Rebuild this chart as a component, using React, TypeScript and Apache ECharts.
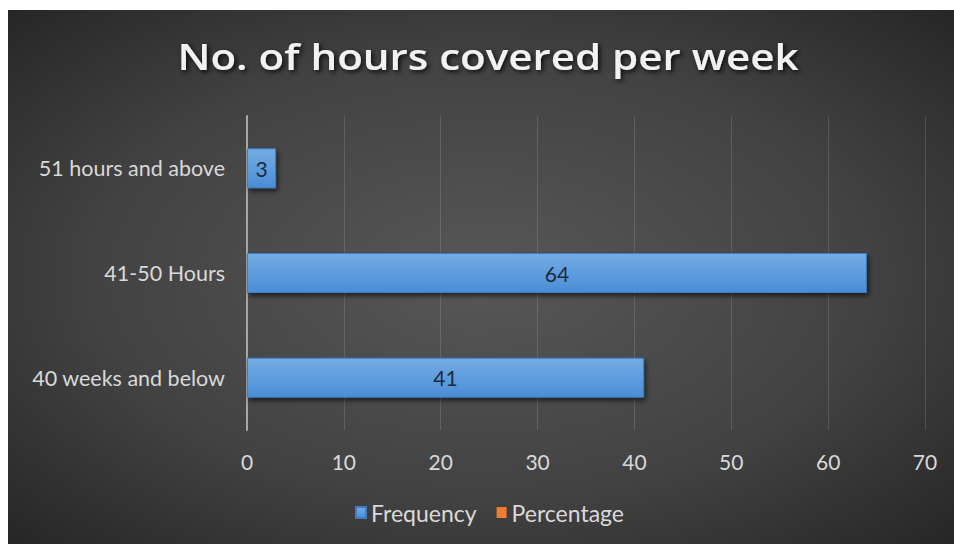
import React, { useEffect, useRef } from "react";
import * as echarts from "echarts";

const titleText = "No. of hours covered per week";
const categories = ["40 weeks and below", "41-50 Hours", "51 hours and above"];
const frequency = [41, 64, 3];
const percentage: (number | null)[] = [];
const xTicks = [0, 70, 10];

export default function App() {
  const ref = useRef<HTMLDivElement>(null);
  useEffect(() => {
    if (!ref.current) return;
    const chart = echarts.init(ref.current, null, { renderer: "svg" });
    const font = "Lato, 'Open Sans', sans-serif";
    chart.setOption({
      animation: false,
      backgroundColor: "#ffffff",
      graphic: [
        {
          type: "rect",
          z: -10,
          silent: true,
          shape: { x: 8, y: 10, width: 946, height: 534 },
          style: {
            fill: new echarts.graphic.RadialGradient(0.5, 0.5, 0.75, [
              { offset: 0, color: "#575757" },
              { offset: 0.55, color: "#424242" },
              { offset: 1, color: "#222222" },
            ]),
          },
        },
        {
          type: "text",
          z: 10,
          silent: true,
          x: 488,
          y: 38,
          scaleX: 1.17,
          scaleY: 1,
          style: {
            text: titleText,
            fill: "#f2f2f2",
            fontFamily: "'Open Sans', sans-serif",
            fontWeight: 600,
            fontSize: 36,
            align: "center",
            verticalAlign: "top",
            textShadowColor: "rgba(0,0,0,0.85)",
            textShadowBlur: 5,
            textShadowOffsetX: 2,
            textShadowOffsetY: 2,
          },
        },
      ],
      legend: {
        bottom: 15,
        left: 350,
        itemWidth: 10,
        itemHeight: 11,
        itemGap: 20,
        icon: "rect",
        textStyle: { color: "#d9d9d9", fontSize: 23, fontFamily: font },
        data: ["Frequency", "Percentage"],
      },
      grid: { left: 247, right: 29, top: 116, bottom: 114 },
      xAxis: {
        type: "value",
        min: xTicks[0],
        max: xTicks[1],
        interval: xTicks[2],
        axisLine: { show: false },
        axisTick: { show: false },
        axisLabel: { color: "#d9d9d9", fontSize: 21, fontFamily: font, margin: 21 },
        splitLine: { lineStyle: { color: "rgba(255,255,255,0.13)", width: 1 } },
      },
      yAxis: {
        type: "category",
        data: categories,
        axisLine: { lineStyle: { color: "#a6a6a6", width: 2 } },
        axisTick: { show: false },
        axisLabel: { color: "#d9d9d9", fontSize: 21.5, fontFamily: font, margin: 22 },
      },
      series: [
        {
          name: "Frequency",
          type: "bar",
          data: frequency,
          barWidth: 40,
          barGap: "-100%",
          itemStyle: {
            color: new echarts.graphic.LinearGradient(0, 0, 0, 1, [
              { offset: 0, color: "#74ace4" },
              { offset: 1, color: "#4a8dd6" },
            ]),
            borderColor: "#3f7cc0",
            borderWidth: 1,
            shadowColor: "rgba(0,0,0,0.6)",
            shadowBlur: 5,
            shadowOffsetX: 2,
            shadowOffsetY: 3,
          },
          label: {
            show: true,
            position: "inside",
            color: "#1c2a3e",
            fontSize: 21,
            fontFamily: font,
          },
        },
        {
          name: "Percentage",
          type: "bar",
          data: percentage,
          barWidth: 40,
          itemStyle: { color: "#ed7d31" },
        },
      ],
    });
    return () => chart.dispose();
  }, []);
  return (
    <div
      ref={ref}
      style={{ position: "fixed", left: 0, top: 0, width: 954, height: 544 }}
    />
  );
}
